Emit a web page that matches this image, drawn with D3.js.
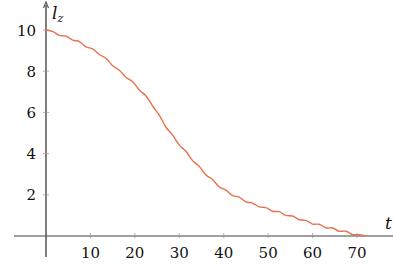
<!DOCTYPE html>
<html>
<head>
<meta charset="utf-8">
<script src="https://cdn.jsdelivr.net/npm/d3@7"></script>
<style>
  body { margin: 0; background: #fff; }
</style>
</head>
<body>
<svg id="chart"></svg>
<script>
let width = 393, height = 264;
let fontFamily = "'DejaVu Serif', serif";

// curve l_z(t)
let tValues = [0, 1.5, 3, 4.5, 6, 7.5, 9, 10.5, 12, 13.5, 15, 16.5, 18, 19.5, 21, 22.5, 24, 25.5,
               27, 28.5, 30, 31.5, 33, 34.5, 36, 37.5, 39, 40.5, 42, 43.5, 45, 46.5, 48, 49.5,
               51, 52.5, 54, 55.5, 57, 58.5, 60, 61.5, 63, 64.5, 66, 67.5, 69, 70.5, 72];
let lzValues = [10.00, 9.93, 9.74, 9.70, 9.51, 9.44, 9.18, 9.08, 8.81, 8.63, 8.26, 8.05, 7.71, 7.49,
                7.09, 6.80, 6.31, 5.87, 5.28, 4.90, 4.41, 4.11, 3.66, 3.38, 2.96, 2.74, 2.38, 2.23,
                1.96, 1.89, 1.66, 1.60, 1.41, 1.38, 1.20, 1.18, 1.00, 0.97, 0.79, 0.76, 0.58, 0.57,
                0.40, 0.39, 0.23, 0.23, 0.07, 0.06, 0.00];
let xTicks = [10, 20, 30, 40, 50, 60, 70];
let yTicks = [2, 4, 6, 8, 10];

let svg = d3.select('#chart').attr('width', width).attr('height', height);

let xScale = d3.scaleLinear().domain([0, 70]).range([46, 357]);
let yScale = d3.scaleLinear().domain([0, 10]).range([236, 30]);

// axes lines
svg.append('line')
    .attr('x1', 14).attr('x2', width)
    .attr('y1', yScale(0)).attr('y2', yScale(0))
    .attr('stroke', '#444').attr('stroke-width', 1.2);
svg.append('line')
    .attr('x1', xScale(0)).attr('x2', xScale(0))
    .attr('y1', 5).attr('y2', 257)
    .attr('stroke', '#555').attr('stroke-width', 1.5);
svg.append('path')
    .attr('d', `M${xScale(0)-2.5},8 L${xScale(0)},2 L${xScale(0)+2.5},8`)
    .attr('fill', 'none').attr('stroke', '#555').attr('stroke-width', 1.1);

// ticks
svg.selectAll('.xtick').data(xTicks).join('line')
    .attr('class', 'xtick')
    .attr('x1', d => xScale(d)).attr('x2', d => xScale(d))
    .attr('y1', yScale(0) - 3).attr('y2', yScale(0) + 2)
    .attr('stroke', '#999').attr('stroke-width', 0.8);
svg.selectAll('.xlab').data(xTicks).join('text')
    .attr('class', 'xlab')
    .attr('x', d => xScale(d)).attr('y', 258)
    .attr('text-anchor', 'middle')
    .style('font-family', fontFamily)
    .style('font-size', '15px')
    .attr('fill', '#111')
    .text(d => d);

svg.selectAll('.ytick').data(yTicks).join('line')
    .attr('class', 'ytick')
    .attr('x1', xScale(0) - 3).attr('x2', xScale(0) + 3)
    .attr('y1', d => yScale(d)).attr('y2', d => yScale(d))
    .attr('stroke', '#999').attr('stroke-width', 0.8);
svg.selectAll('.ylab').data(yTicks).join('text')
    .attr('class', 'ylab')
    .attr('x', 36).attr('y', d => yScale(d) + 5.5)
    .attr('text-anchor', 'end')
    .style('font-family', fontFamily)
    .style('font-size', '15px')
    .attr('fill', '#111')
    .text(d => d);

// axis labels
let lz = svg.append('text').attr('x', 52).attr('y', 19)
    .style('font-family', fontFamily).style('font-style', 'italic')
    .style('font-size', '17px').attr('fill', '#111');
lz.append('tspan').text('l');
lz.append('tspan').attr('dy', 3).style('font-size', '11px').text('z');
svg.append('text').attr('x', 385).attr('y', 229)
    .style('font-family', fontFamily).style('font-style', 'italic')
    .style('font-size', '17px').attr('fill', '#111').text('t');

// curve
let line = d3.line()
    .x((d, i) => xScale(tValues[i]))
    .y(d => yScale(d))
    .curve(d3.curveCatmullRom);
svg.append('path')
    .datum(lzValues)
    .attr('d', line)
    .attr('fill', 'none')
    .attr('stroke', '#e8714c')
    .attr('stroke-width', 1.4);
</script>
</body>
</html>
